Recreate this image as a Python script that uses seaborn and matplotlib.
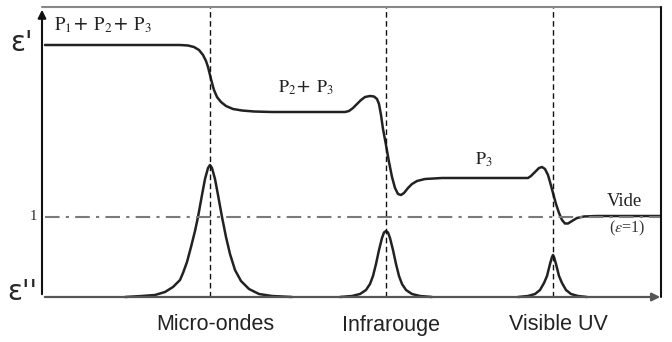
import matplotlib
matplotlib.use("Agg")
import matplotlib.pyplot as plt
import seaborn as sns

sns.set_style("white")
plt.rcParams['font.family'] = ['DejaVu Sans']
plt.rcParams['mathtext.fontset'] = 'stix'

# ---- data (arbitrary frequency units / permittivity units) ----
eps1_freq = [3, 58, 108, 138, 146, 152, 157, 161, 164, 166, 168, 170, 172, 175, 179, 184, 191, 200,
             212, 230, 278, 303, 307, 311, 315, 319, 323, 328, 332, 335, 337, 339, 341, 344, 347,
             350, 353, 356, 359, 362, 366, 370, 375, 383, 400, 458, 486, 489, 493, 497, 500, 503,
             506, 508, 511, 514, 517, 520, 523, 526, 530, 535, 542, 555, 618]
eps1_val = [252, 252, 252, 252, 251.5, 250, 247, 242, 236, 230, 222, 214, 207, 200, 195, 191, 188,
            186.5, 185.5, 185, 185, 185, 186, 189, 193, 197, 200, 201, 200.5, 198, 193, 182, 168,
            152, 135, 120, 109, 103, 102, 104, 109, 113, 116, 118, 119, 119, 119, 121, 125, 129,
            130, 128, 122, 115, 104, 93, 84, 77, 73.5, 73.5, 76, 79, 80.5, 81, 81]

mw_freq = [83, 100, 113, 123, 131, 138, 141, 145, 149, 153, 156, 160, 163, 166, 168, 170, 173, 176,
           180, 184, 188, 193, 199, 207, 217, 230, 250]
mw_val = [0, 1, 2, 5, 10, 17, 24, 35, 50, 66, 80, 102, 118, 129, 132, 129, 118, 102, 80, 60, 43, 27,
          16, 8, 3, 1, 0]

ir_freq = [298, 310, 318, 324, 328, 331, 334, 337, 340, 342, 344, 346, 348, 351, 354, 357, 360, 364,
           370, 378, 390]
ir_val = [0, 1, 3, 7, 13, 21, 33, 47, 59, 64.5, 66, 64.5, 59, 47, 33, 21, 13, 7, 3, 1, 0]

uv_freq = [476, 486, 493, 498, 502, 505, 508, 510, 511, 512, 514, 517, 520, 524, 529, 536, 545]
uv_val = [0, 1, 3, 7, 14, 21, 33, 40, 42, 40, 33, 21, 14, 7, 3, 1, 0]

resonances = [168, 344, 511]
region_labels = ["Micro-ondes", "Infrarouge", "Visible UV"]
vacuum_level = 80
x_max = 619
y_top = 290

fig = plt.figure(figsize=(6.72, 3.42), dpi=100)
ax = fig.add_axes([0, 0, 1, 1])
ax.set_xlim(-42, 630)
ax.set_ylim(-45, 297)
ax.axis("off")

curve_color = "#222222"
sns.lineplot(x=eps1_freq, y=eps1_val, sort=False, ax=ax, color=curve_color, lw=1.8)
for fx, fy in [(mw_freq, mw_val), (ir_freq, ir_val), (uv_freq, uv_val)]:
    sns.lineplot(x=fx, y=fy, sort=False, ax=ax, color=curve_color, lw=1.8)

# vacuum level dash-dot
ax.axhline(vacuum_level, xmin=(3 + 42) / 672, xmax=(x_max + 42) / 672, color="#7a7a7a",
           lw=1.5, ls=(0, (7, 3, 1.5, 3)))

# resonance dashed lines
for r in resonances:
    ax.plot([r, r], [0, y_top], color="#111111", lw=1.0, ls=(0, (4, 2.5)))

# frame
ax.plot([0, x_max], [y_top, y_top], color="#888888", lw=1.5)
ax.plot([x_max, x_max], [0, y_top], color="#111111", lw=1.5)
ax.annotate("", xy=(0, y_top), xytext=(0, 0),
            arrowprops=dict(arrowstyle="-|>", color="#111111", lw=1.5, mutation_scale=12))
ax.annotate("", xy=(x_max + 2, 0), xytext=(0, 0),
            arrowprops=dict(arrowstyle="-|>", color="#555555", lw=1.6, mutation_scale=12))

# labels
ax.text(-20, 254, "ε'", fontsize=20, ha="center", va="center", family="DejaVu Sans")
ax.text(-20, 5, "ε''", fontsize=20, ha="center", va="center", family="DejaVu Sans")
ax.text(-9, vacuum_level, "1", fontsize=10.5, ha="center", va="center", family="Liberation Serif")

ax.text(61, 272, r"$\mathrm{P_1}$+ $\mathrm{P_2}$+ $\mathrm{P_3}$", fontsize=13.5, ha="center",
        va="center", color="#222222")
ax.text(264, 209, r"$\mathrm{P_2}$+ $\mathrm{P_3}$", fontsize=13, ha="center", va="center",
        color="#222222")
ax.text(442, 137, r"$\mathrm{P_3}$", fontsize=13, ha="center", va="center", color="#222222")
ax.text(582, 95, "Vide", fontsize=13.5, ha="center", va="center", family="Liberation Serif",
        color="#222222")
ax.text(585, 69, r"($\varepsilon$=1)", fontsize=11.5, ha="center", va="center",
        family="Liberation Serif", color="#333333")

for r, lab in zip(resonances, region_labels):
    ax.text(r + 5, -28, lab, fontsize=15.5, ha="center", va="center", family="Liberation Sans",
            color="#222222")

fig.savefig("out.png", dpi=100)
